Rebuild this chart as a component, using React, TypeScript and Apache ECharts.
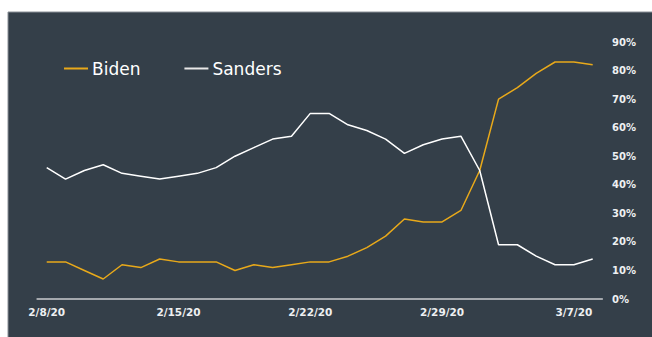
import React, { useEffect, useRef } from "react";
import * as echarts from "echarts";

const dates = [
  "2/8/20", "2/9/20", "2/10/20", "2/11/20", "2/12/20", "2/13/20", "2/14/20",
  "2/15/20", "2/16/20", "2/17/20", "2/18/20", "2/19/20", "2/20/20", "2/21/20",
  "2/22/20", "2/23/20", "2/24/20", "2/25/20", "2/26/20", "2/27/20", "2/28/20",
  "2/29/20", "3/1/20", "3/2/20", "3/3/20", "3/4/20", "3/5/20", "3/6/20",
  "3/7/20", "3/8/20",
];
const biden = [13, 13, 10, 7, 12, 11, 14, 13, 13, 13, 10, 12, 11, 12, 13, 13, 15, 18, 22, 28, 27, 27, 31, 45, 70, 74, 79, 83, 83, 82];
const sanders = [46, 42, 45, 47, 44, 43, 42, 43, 44, 46, 50, 53, 56, 57, 65, 65, 61, 59, 56, 51, 54, 56, 57, 45, 19, 19, 15, 12, 12, 14];

const BG = "#343f49";
const GOLD = "#e8a91a";
const FONT = "DejaVu Sans";

export default function App() {
  const ref = useRef<HTMLDivElement>(null);
  useEffect(() => {
    if (!ref.current) return;
    const chart = echarts.init(ref.current, null, { renderer: "svg" });
    chart.setOption({
      animation: false,
      graphic: [
        {
          type: "rect",
          z: -10,
          shape: { x: 8, y: 12, width: 660, height: 340 },
          style: { fill: BG, stroke: "#8a9097", lineWidth: 1 },
        },
      ],
      legend: {
        left: 64,
        top: 60,
        padding: 0,
        itemGap: 44,
        itemWidth: 24,
        itemHeight: 2,
        icon: "rect",
        textStyle: { color: "#ffffff", fontFamily: FONT, fontSize: 17, fontWeight: 500, padding: [0, 0, 0, -1] },
        data: [
          { name: "Biden", itemStyle: { color: GOLD } },
          { name: "Sanders", itemStyle: { color: "#e8e8e8" } },
        ],
      },
      grid: { left: 37.3, right: 49.9, top: 42, bottom: 38 },
      xAxis: {
        type: "category",
        data: dates,
        boundaryGap: true,
        axisLine: { lineStyle: { color: "#a4a8ad", width: 2 } },
        axisTick: { show: false },
        axisLabel: {
          interval: 6,
          color: "#eef0f2",
          fontFamily: FONT,
          fontSize: 10.5,
          fontWeight: "bold",
          margin: 7,
        },
      },
      yAxis: {
        type: "value",
        position: "right",
        min: 0,
        max: 90,
        interval: 10,
        splitLine: { show: false },
        axisLine: { show: false },
        axisTick: { show: false },
        axisLabel: {
          formatter: "{value}%",
          color: "#eef0f2",
          fontFamily: FONT,
          fontSize: 10,
          fontWeight: "bold",
          margin: 10,
        },
      },
      series: [
        {
          name: "Biden",
          type: "line",
          data: biden,
          symbol: "none",
          lineStyle: { color: GOLD, width: 1.5 },
          itemStyle: { color: GOLD },
        },
        {
          name: "Sanders",
          type: "line",
          data: sanders,
          symbol: "none",
          lineStyle: { color: "#ffffff", width: 1.5 },
          itemStyle: { color: "#ffffff" },
        },
      ],
    });
    return () => chart.dispose();
  }, []);
  return (
    <div
      ref={ref}
      style={{ position: "absolute", left: 0, top: 0, width: 652, height: 337 }}
    />
  );
}
